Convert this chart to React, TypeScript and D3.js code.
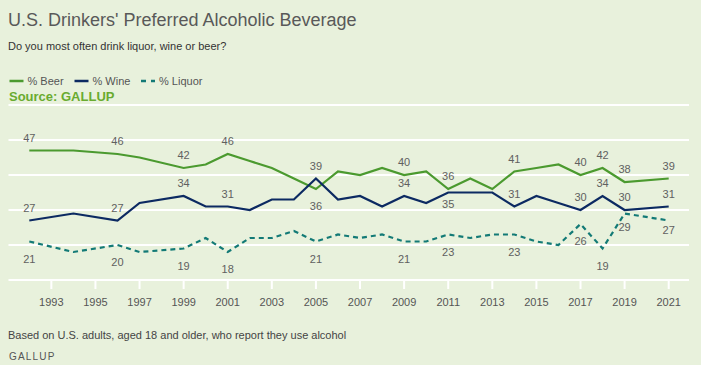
import * as d3 from "d3";

const years = [1992, 1994, 1996, 1997, 1999, 2000, 2001, 2002, 2003, 2004, 2005, 2006, 2007, 2008, 2009, 2010, 2011, 2012, 2013, 2014, 2015, 2016, 2017, 2018, 2019, 2021];
const beer = [47, 47, 46, 45, 42, 43, 46, 44, 42, 39, 36, 41, 40, 42, 40, 41, 36, 39, 36, 41, 42, 43, 40, 42, 38, 39];
const wine = [27, 29, 27, 32, 34, 31, 31, 30, 33, 33, 39, 33, 34, 31, 34, 32, 35, 35, 35, 31, 34, 32, 30, 34, 30, 31];
const liquor = [21, 18, 20, 18, 19, 22, 18, 22, 22, 24, 21, 23, 22, 23, 21, 21, 23, 22, 23, 23, 21, 20, 26, 19, 29, 27];

const labelYears = [1992, 1996, 1999, 2001, 2005, 2009, 2011, 2014, 2017, 2018, 2019, 2021];
const tickYears = d3.range(1993, 2022, 2);
const gridValues = [10, 20, 30, 40, 50, 60];

const W = 701;
const H = 365;
const BG = "#e8f1dc";
const GREEN = "#4b9a2f";
const NAVY = "#0c2a62";
const TEAL = "#137a76";

type Series = {
  name: string;
  values: number[];
  color: string;
  dash?: string;
  // label offset (baseline relative to the point) per labelled year
  dy: (year: number) => number;
};

const ABOVE = -9;
const BELOW = 21;

const series: Series[] = [
  { name: "% Beer", values: beer, color: GREEN, dy: (y) => (y === 2005 ? 21 : ABOVE) },
  { name: "% Wine", values: wine, color: NAVY, dy: (y) => (y === 2011 ? 15.5 : ABOVE) },
  {
    name: "% Liquor",
    values: liquor,
    color: TEAL,
    dash: "5,4",
    dy: (y) => (y === 2019 ? 17 : y === 2021 ? 13 : BELOW),
  },
];

export default function App() {
  const x = d3.scaleLinear().domain([1992, 2021]).range([29.3, 668.7]);
  const y = d3.scaleLinear().domain([10, 60]).range([280, 105]);
  const line = d3
    .line<number>()
    .x((_, i) => x(years[i]))
    .y((d) => y(d));

  const font = "'Liberation Sans', Arial, sans-serif";

  return (
    <svg
      width={W}
      height={H}
      style={{ position: "absolute", left: 0, top: 0, fontFamily: font }}
    >
      <rect width={W} height={H} fill={BG} />

      <text x={8} y={25.5} fontSize={18} fill="#595959">
        U.S. Drinkers' Preferred Alcoholic Beverage
      </text>
      <text x={8} y={49.5} fontSize={11} fill="#333">
        Do you most often drink liquor, wine or beer?
      </text>

      {/* legend */}
      {series.map((s, i) => {
        const lx = [9.5, 74.5, 141][i];
        return (
          <g key={s.name}>
            <line
              x1={lx}
              x2={lx + 14}
              y1={81}
              y2={81}
              stroke={s.color}
              strokeWidth={2.5}
              strokeDasharray={s.dash ? "5,5" : undefined}
            />
            <text x={lx + 18} y={85} fontSize={11} fill="#555">
              {s.name}
            </text>
          </g>
        );
      })}
      <text x={9} y={101.3} fontSize={13} fontWeight="bold" fill="#69ab2f">
        Source: GALLUP
      </text>

      {/* gridlines */}
      {gridValues.map((v) => (
        <line key={v} x1={8.5} x2={689} y1={y(v)} y2={y(v)} stroke="#fff" strokeWidth={2} />
      ))}
      {tickYears.map((t) => (
        <g key={t}>
          <line x1={x(t)} x2={x(t)} y1={280} y2={289} stroke="#fff" strokeWidth={2} />
          <text x={x(t)} y={305.5} fontSize={11} fill="#555" textAnchor="middle">
            {t}
          </text>
        </g>
      ))}

      {/* lines */}
      {series.map((s) => (
        <path
          key={s.name}
          d={line(s.values) || ""}
          fill="none"
          stroke={s.color}
          strokeWidth={2.2}
          strokeDasharray={s.dash}
        />
      ))}

      {/* labels */}
      {series.map((s) =>
        labelYears.map((yr) => {
          const i = years.indexOf(yr);
          return (
            <text
              key={s.name + yr}
              x={x(yr)}
              y={y(s.values[i]) + s.dy(yr)}
              fontSize={11}
              fill="#606060"
              textAnchor="middle"
            >
              {s.values[i]}
            </text>
          );
        })
      )}

      <text x={8} y={339} fontSize={11} fill="#444">
        Based on U.S. adults, aged 18 and older, who report they use alcohol
      </text>
      <text x={9} y={360} fontSize={10} fill="#555" letterSpacing={1.2}>
        GALLUP
      </text>
    </svg>
  );
}
